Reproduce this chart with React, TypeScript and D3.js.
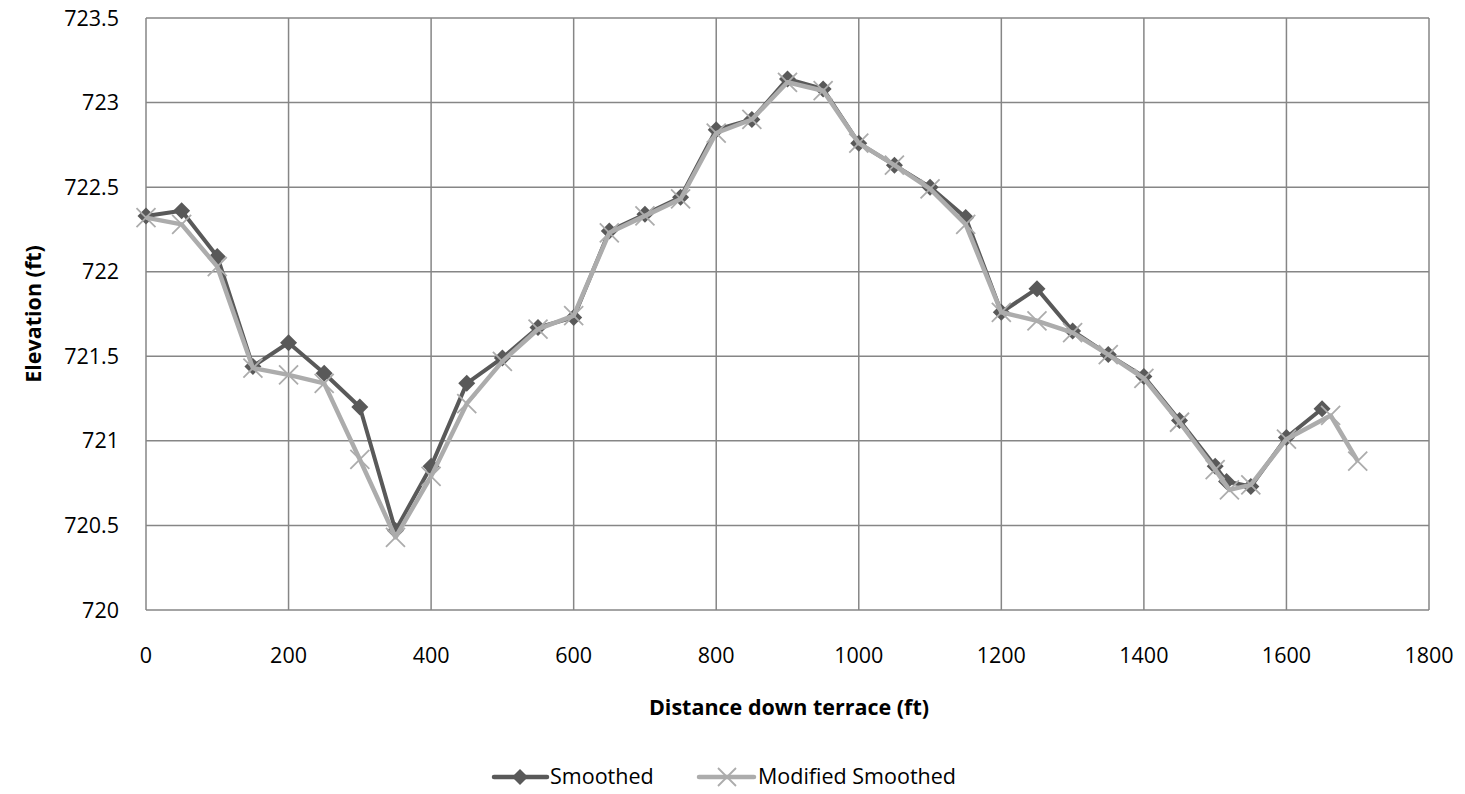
import React from "react";
import * as d3 from "d3";

const smoothedX = [0, 50, 100, 150, 200, 250, 300, 350, 400, 450, 500, 550, 600, 650, 700, 750, 800, 850, 900, 950, 1000, 1050, 1100, 1150, 1200, 1250, 1300, 1350, 1400, 1450, 1500, 1516, 1550, 1600, 1650];
const smoothedY = [722.33, 722.36, 722.09, 721.44, 721.58, 721.4, 721.2, 720.47, 720.85, 721.34, 721.49, 721.67, 721.73, 722.24, 722.34, 722.44, 722.84, 722.9, 723.14, 723.08, 722.76, 722.63, 722.5, 722.32, 721.76, 721.9, 721.65, 721.51, 721.38, 721.12, 720.85, 720.76, 720.73, 721.02, 721.19];
const modifiedX = [0, 50, 100, 150, 200, 250, 300, 350, 400, 450, 500, 550, 600, 650, 700, 750, 800, 850, 900, 950, 1000, 1050, 1100, 1150, 1200, 1250, 1300, 1350, 1400, 1450, 1500, 1520, 1550, 1600, 1662, 1700];
const modifiedY = [722.32, 722.28, 722.03, 721.43, 721.39, 721.34, 720.89, 720.43, 720.79, 721.22, 721.47, 721.66, 721.74, 722.23, 722.33, 722.43, 722.82, 722.9, 723.12, 723.07, 722.76, 722.63, 722.49, 722.28, 721.76, 721.71, 721.64, 721.51, 721.37, 721.11, 720.83, 720.71, 720.74, 721.01, 721.15, 720.88];
const xTicks = [0, 200, 400, 600, 800, 1000, 1200, 1400, 1600, 1800];
const yTicks = [720, 720.5, 721, 721.5, 722, 722.5, 723, 723.5];
const seriesNames = ["Smoothed", "Modified Smoothed"];

const W = 1465;
const H = 794;
const plot = { left: 146, right: 1429, top: 18, bottom: 610 };
const DARK = "#595959";
const LIGHT = "#acacac";
const GRID = "#868686";
const FONT = "'Open Sans', Calibri, sans-serif";
const FS = 21.5;

export default function App() {
  const x = d3.scaleLinear().domain([0, 1800]).range([plot.left, plot.right]);
  const y = d3.scaleLinear().domain([720, 723.5]).range([plot.bottom, plot.top]);
  const smoothed = smoothedX.map((v, i) => [v, smoothedY[i]] as [number, number]);
  const modified = modifiedX.map((v, i) => [v, modifiedY[i]] as [number, number]);
  const line = d3
    .line<[number, number]>()
    .x((d) => x(d[0]))
    .y((d) => y(d[1]));

  const diamond = (cx: number, cy: number, r: number) =>
    `M${cx},${cy - r}L${cx + r},${cy}L${cx},${cy + r}L${cx - r},${cy}Z`;
  const cross = (cx: number, cy: number, r: number) =>
    `M${cx - r},${cy - r}L${cx + r},${cy + r}M${cx - r},${cy + r}L${cx + r},${cy - r}`;

  return (
    <svg
      width={W}
      height={H}
      style={{ position: "absolute", left: 0, top: 0, background: "#fff" }}
    >
      <rect x={0} y={0} width={W} height={H} fill="#fff" />
      {yTicks.map((t) => (
        <line
          key={"gy" + t}
          x1={plot.left}
          x2={plot.right}
          y1={y(t)}
          y2={y(t)}
          stroke={GRID}
          strokeWidth={1.5}
        />
      ))}
      {xTicks.map((t) => (
        <line
          key={"gx" + t}
          x1={x(t)}
          x2={x(t)}
          y1={plot.top}
          y2={plot.bottom}
          stroke={GRID}
          strokeWidth={1.5}
        />
      ))}
      {yTicks.map((t) => (
        <text
          key={"ty" + t}
          x={119}
          y={y(t)}
          dy="0.35em"
          textAnchor="end"
          fontFamily={FONT}
          fontSize={FS}
          fill="#000"
        >
          {String(t)}
        </text>
      ))}
      {xTicks.map((t) => (
        <text
          key={"tx" + t}
          x={x(t)}
          y={655}
          dy="0.35em"
          textAnchor="middle"
          fontFamily={FONT}
          fontSize={FS}
          fill="#000"
        >
          {String(t)}
        </text>
      ))}
      <text
        x={789}
        y={707}
        dy="0.35em"
        textAnchor="middle"
        fontFamily={FONT}
        fontSize={FS}
        fontWeight="bold"
        fill="#000"
      >
        Distance down terrace (ft)
      </text>
      <text
        transform={`translate(33,314) rotate(-90)`}
        dy="0.35em"
        textAnchor="middle"
        fontFamily={FONT}
        fontSize={FS}
        fontWeight="bold"
        fill="#000"
      >
        Elevation (ft)
      </text>
      <path d={line(smoothed) || ""} fill="none" stroke={DARK} strokeWidth={4} strokeLinejoin="round" />
      {smoothed.map((d, i) => (
        <path key={"sm" + i} d={diamond(x(d[0]), y(d[1]), 8.5)} fill={DARK} />
      ))}
      <path d={line(modified) || ""} fill="none" stroke={LIGHT} strokeWidth={4.5} strokeLinejoin="round" />
      {modified.map((d, i) => (
        <path key={"md" + i} d={cross(x(d[0]), y(d[1]), 9.5)} fill="none" stroke={LIGHT} strokeWidth={1.8} />
      ))}
      <g>
        <line x1={494} x2={547} y1={777} y2={777} stroke={DARK} strokeWidth={4.5} strokeLinecap="round" />
        <path d={diamond(520, 777, 8)} fill={DARK} />
        <text x={550} y={776} dy="0.35em" fontFamily={FONT} fontSize={FS} fill="#000">
          {seriesNames[0]}
        </text>
        <line x1={699} x2={754} y1={777} y2={777} stroke={LIGHT} strokeWidth={4.5} strokeLinecap="round" />
        <path d={cross(727, 777, 9)} fill="none" stroke={LIGHT} strokeWidth={1.8} />
        <text x={758} y={776} dy="0.35em" fontFamily={FONT} fontSize={FS} fill="#000">
          {seriesNames[1]}
        </text>
      </g>
    </svg>
  );
}
